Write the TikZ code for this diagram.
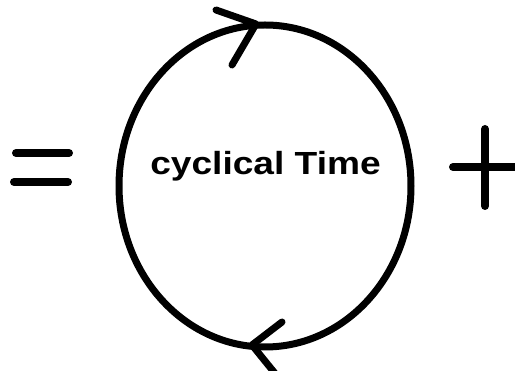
\documentclass[tikz,border=0pt]{standalone}
\usepackage{fontspec}
\setmainfont{Liberation Sans}
\usetikzlibrary{shapes.geometric}
\begin{document}
\begin{tikzpicture}[x=1pt,y=-1pt,
  stroke/.style={line width=7pt,line cap=round,line join=round},
  bar/.style={line width=8pt,line cap=round},
  loopshape/.style={ellipse,draw,line width=7pt,minimum width=292pt,minimum height=322pt,inner sep=0pt},
  lbl/.style={font=\bfseries\fontsize{32}{32}\selectfont,inner sep=0pt,anchor=base}]
\useasboundingbox (0,0) rectangle (515,371);
\node[loopshape] (cyc) at (265,186) {};
\node[lbl] (txt) at (265.5,175) {\scalebox{1.16}[1]{cyclical Time}};
% equals sign
\draw[bar] (16,153) -- (69,153);
\draw[bar] (14,182) -- (68,182);
% plus sign
\draw[bar] (485,129) -- (485,206);
\draw[bar] (453,167) -- (520,167);
% top arrow head
\coordinate (toptip) at (256,24);
\coordinate (topA) at (216,10);
\coordinate (topB) at (232,65);
\draw[stroke] (topA) -- (toptip) -- (topB);
% bottom arrow head
\coordinate (bottip) at (252,345);
\coordinate (botA) at (282,322);
\coordinate (botB) at (282,382);
\draw[stroke] (botA) -- (bottip) -- (botB);
\end{tikzpicture}
\end{document}
